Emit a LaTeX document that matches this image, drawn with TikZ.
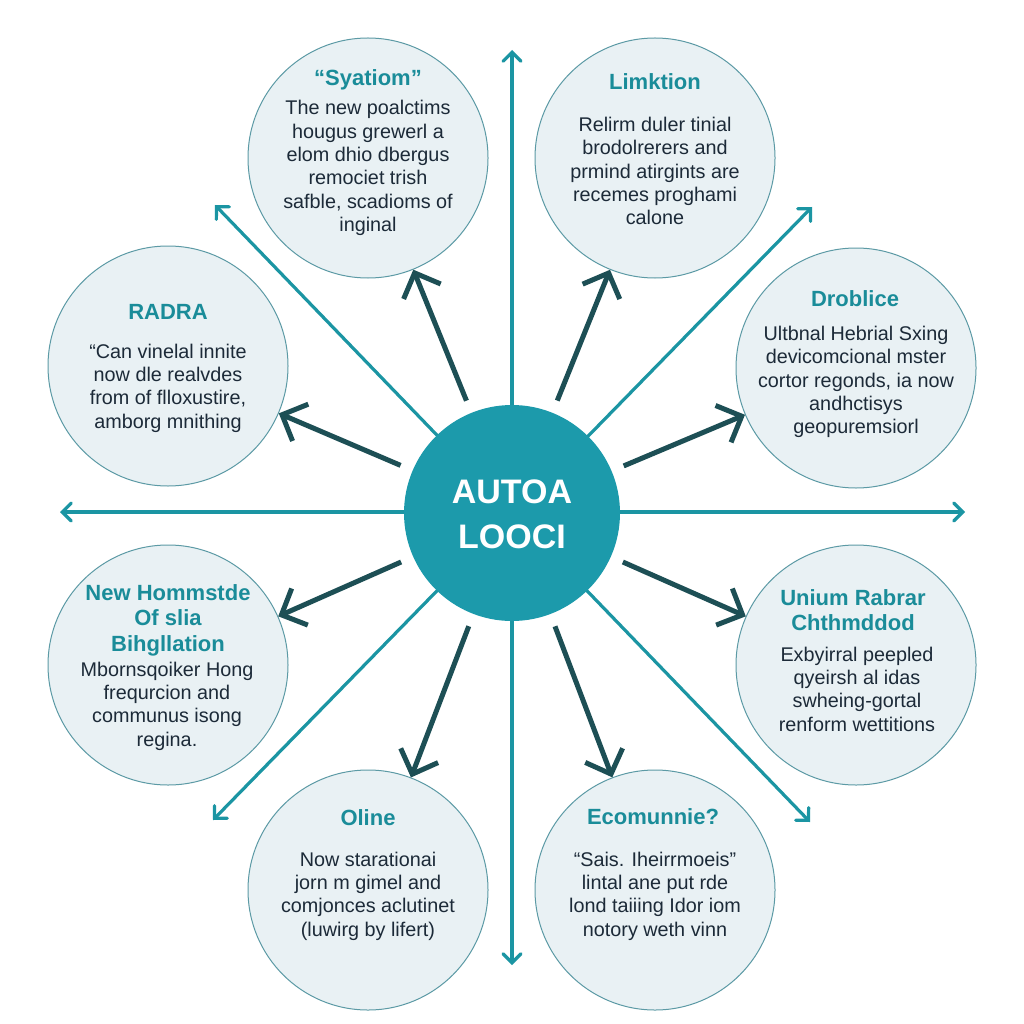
\documentclass[tikz,border=0pt]{standalone}
\usepackage{fontspec}
\setmainfont{Liberation Sans}
\usetikzlibrary{arrows.meta}
\definecolor{lineteal}{HTML}{1B95A3}
\definecolor{darkteal}{HTML}{1D4F55}
\definecolor{hubfill}{HTML}{1C9AAB}
\definecolor{satfill}{HTML}{E9F1F4}
\definecolor{satedge}{HTML}{5C9AA5}
\definecolor{titleteal}{HTML}{1A8C99}
\definecolor{bodytext}{HTML}{1C2A38}
\begin{document}
\begin{tikzpicture}[x=1pt,y=-1pt,
  sat/.style={circle, minimum size=240pt, inner sep=0pt, fill=satfill, draw=satedge, line width=1pt},
  hub/.style={circle, minimum size=216pt, inner sep=0pt, fill=hubfill},
  hubtext/.style={font=\fontsize{34}{45}\selectfont\bfseries, text=white, align=center},
  ttl/.style={font=\fontsize{22}{25.5}\selectfont\bfseries, text=titleteal, align=center},
  bdy/.style={font=\fontsize{19.8}{23.3}\selectfont, text=bodytext, align=center},
  longline/.style={draw=lineteal, line width=3.2pt,
    {Straight Barb[length=9pt,width=18pt,line cap=round]}-{Straight Barb[length=9pt,width=18pt,line cap=round]}},
  spoke/.style={draw=darkteal, line width=5pt, -{Straight Barb[length=20pt,width=40pt]}, shorten <=13pt}]
\useasboundingbox[fill=white] (0,0) rectangle (1024,1024);

% long axis lines
\coordinate (vt) at (512,50);
\coordinate (vb) at (512,965);
\coordinate (hl) at (60,512);
\coordinate (hr) at (965,512);
\coordinate (dtl) at (215,205);
\coordinate (dbr) at (810,822);
\coordinate (dtr) at (812,207);
\coordinate (dbl) at (213,820);
\draw[longline] (vt) -- (vb);
\draw[longline] (hl) -- (hr);
\draw[longline] (dtl) -- (dbr);
\draw[longline] (dtr) -- (dbl);

% satellite circles
\node[sat] (c1) at (368,158) {};
\node[sat] (c2) at (655,158) {};
\node[sat] (c3) at (168,366) {};
\node[sat] (c4) at (856,368) {};
\node[sat] (c5) at (168,665) {};
\node[sat] (c6) at (856,665) {};
\node[sat] (c7) at (368,890) {};
\node[sat] (c8) at (655,890) {};

% hub
\node[hub] (hub) at (512,513) {};
\node[hubtext] (hubt) at (512,514) {AUTOA\\LOOCI};

% spokes
\foreach \c in {c1,c2,c3,c4,c5,c6,c7,c8}
  \draw[spoke] (hub) -- (\c);

% texts
\node[ttl] (t1) at (368,80) {“Syatiom”};
\node[bdy] (b1) at (368,168) {The new poalctims\\hougus grewerl a\\elom dhio dbergus\\remociet trish\\safble, scadioms of\\inginal};

\node[ttl] (t2) at (655,82) {Limktion};
\node[bdy] (b2) at (655,171) {Relirm duler tinial\\brodolrerers and\\prmind atirgints are\\recemes proghami\\calone};

\node[ttl] (t3) at (168,312) {RADRA};
\node[bdy] (b3) at (168,388) {“Can vinelal innite\\now dle realvdes\\from of flloxustire,\\amborg mnithing};

\node[ttl] (t4) at (855,299) {Droblice};
\node[bdy] (b4) at (856,382) {Ultbnal Hebrial Sxing\\devicomcional mster\\cortor regonds, ia now\\andhctisys\\geopuremsiorl};

\node[ttl] (t5) at (168,620) {New Hommstde\\Of slia\\Bihgllation};
\node[bdy] (b5) at (167,706) {Mbornsqoiker Hong\\frequrcion and\\communus isong\\regina.};

\node[ttl] (t6) at (853,610) {Unium Rabrar\\Chthmddod};
\node[bdy] (b6) at (857,689) {Exbyirral peepled\\qyeirsh al idas\\swheing-gortal\\renform wettitions};

\node[ttl] (t7) at (368,818) {Oline};
\node[bdy] (b7) at (368,896) {Now starationai\\jorn m gimel and\\comjonces aclutinet\\(luwirg by lifert)};

\node[ttl] (t8) at (653,817) {Ecomunnie?};
\node[bdy] (b8) at (655,896) {“Sais. Iheirrmoeis”\\lintal ane put rde\\lond taiiing Idor iom\\notory weth vinn};
\end{tikzpicture}
\end{document}
